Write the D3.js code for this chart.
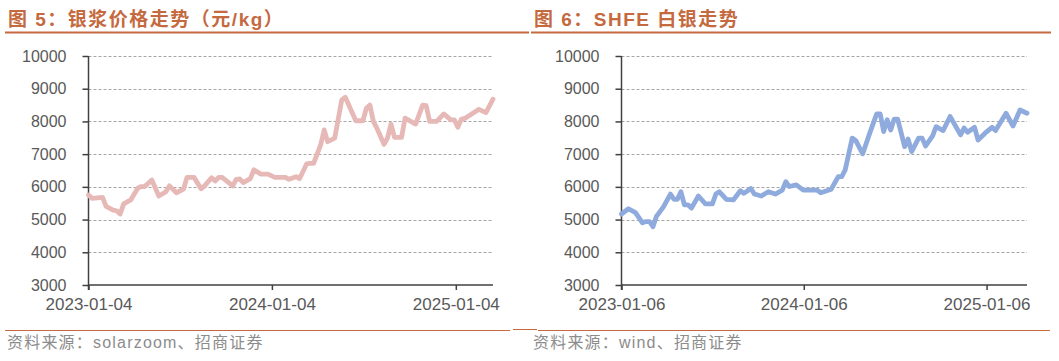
<!DOCTYPE html>
<html><head><meta charset="utf-8">
<script src="https://cdn.jsdelivr.net/npm/d3@7"></script>
<style>body{margin:0;background:#fff} svg{display:block}</style>
</head><body><svg id="c" width="1059" height="361"></svg>
<script>
// ---------- data ----------
const yTicks = [3000, 4000, 5000, 6000, 7000, 8000, 9000, 10000];

const pasteTitle = "图 5：银浆价格走势（元/kg）";
const pasteSource = "资料来源：solarzoom、招商证券";
const pasteXTicks = ["2023-01-04", "2024-01-04", "2025-01-04"];
const pasteDomain = ["2023-01-04", "2025-03-19"];
const pasteDates = [
  "2023-01-04","2023-01-11","2023-02-01","2023-02-08","2023-02-22","2023-03-01","2023-03-08","2023-03-15",
  "2023-03-29","2023-04-12","2023-04-19","2023-04-26","2023-05-10","2023-05-24","2023-06-07","2023-06-14",
  "2023-06-28","2023-07-12","2023-07-19","2023-08-02","2023-08-16","2023-08-23","2023-09-06","2023-09-13",
  "2023-09-20","2023-09-27","2023-10-18","2023-10-25","2023-11-01","2023-11-08","2023-11-22","2023-11-29",
  "2023-12-13","2023-12-27","2024-01-10","2024-01-31","2024-02-07","2024-02-21","2024-02-28","2024-03-13",
  "2024-03-20","2024-03-27","2024-04-10","2024-04-17","2024-04-24","2024-05-08","2024-05-22","2024-05-29",
  "2024-06-19","2024-07-03","2024-07-10","2024-07-17","2024-07-24","2024-07-31","2024-08-14","2024-08-21",
  "2024-08-28","2024-09-04","2024-09-18","2024-09-25","2024-10-16","2024-10-30","2024-11-06","2024-11-13",
  "2024-11-27","2024-12-11","2024-12-25","2025-01-01","2025-01-08","2025-01-15","2025-01-22","2025-02-19",
  "2025-03-05","2025-03-19"
];
const pasteValues = [
  5750,5650,5680,5400,5290,5270,5170,5480,
  5600,5960,6010,6010,6210,5720,5850,6030,
  5820,5930,6290,6290,5940,6030,6280,6180,
  6290,6290,6030,6230,6240,6130,6250,6520,
  6390,6390,6290,6290,6230,6310,6250,6700,
  6720,6720,7280,7740,7380,7490,8660,8740,
  8020,8020,8400,8500,8000,7790,7300,7490,
  7920,7510,7510,8100,7920,8500,8480,8000,
  8000,8230,8050,8050,7820,8070,8090,8370,
  8270,8680
];

const shfeTitle = "图 6：SHFE 白银走势";
const shfeSource = "资料来源：wind、招商证券";
const shfeXTicks = ["2023-01-06", "2024-01-06", "2025-01-06"];
const shfeDomain = ["2023-01-06", "2025-03-28"];
const shfeDates = [
  "2023-01-06","2023-01-20","2023-02-03","2023-02-17","2023-02-24","2023-03-03","2023-03-10","2023-03-17",
  "2023-03-31","2023-04-14","2023-04-21","2023-04-28","2023-05-05","2023-05-12","2023-05-19","2023-05-26",
  "2023-06-09","2023-06-23","2023-07-07","2023-07-14","2023-07-21","2023-08-04","2023-08-18","2023-09-01",
  "2023-09-08","2023-09-22","2023-09-29","2023-10-13","2023-10-27","2023-11-10","2023-11-24","2023-12-01",
  "2023-12-08","2023-12-22","2024-01-05","2024-02-02","2024-02-09","2024-03-01","2024-03-15","2024-03-22",
  "2024-03-29","2024-04-12","2024-04-19","2024-05-03","2024-05-17","2024-05-31","2024-06-07","2024-06-14",
  "2024-06-21","2024-06-28","2024-07-05","2024-07-12","2024-07-26","2024-08-02","2024-08-09","2024-08-23",
  "2024-08-30","2024-09-06","2024-09-20","2024-09-27","2024-10-11","2024-10-25","2024-11-15","2024-11-22",
  "2024-11-29","2024-12-13","2024-12-20","2025-01-03","2025-01-17","2025-01-24","2025-02-14","2025-02-28",
  "2025-03-14","2025-03-28"
];
const shfeValues = [
  5170,5330,5210,4900,4940,4940,4780,5100,
  5390,5780,5620,5620,5850,5450,5450,5350,
  5720,5480,5480,5780,5850,5620,5600,5880,
  5800,5950,5780,5720,5850,5780,5900,6160,
  6010,6060,5900,5900,5820,5930,6310,6310,
  6520,7490,7420,7010,7640,8230,8230,7690,
  8050,7740,8070,8070,7230,7460,7080,7490,
  7490,7250,7560,7840,7720,8150,7590,7800,
  7670,7820,7430,7640,7820,7720,8250,7860,
  8350,8250
];

// ---------- drawing ----------
const svg = d3.select("#c");
const parse = d3.timeParse("%Y-%m-%d");
const fmt = d3.timeFormat("%Y-%m-%d");
const ACCENT = "#C5693F";
const LATIN = "'Liberation Sans', Arial, 'Noto Sans CJK SC', sans-serif";

function panel(cfg) {
  const g = svg.append("g");
  // title
  g.append("text").attr("x", cfg.left + 3).attr("y", 26)
    .attr("font-family", LATIN).attr("font-weight", "bold").attr("font-size", 19)
    .attr("letter-spacing", 1.5)
    .attr("fill", ACCENT).text(cfg.title);
  g.append("line").attr("x1", cfg.left).attr("x2", cfg.right).attr("y1", 32.5).attr("y2", 32.5)
    .attr("stroke", ACCENT).attr("stroke-width", 2);

  const x = d3.scaleTime().domain(cfg.domain.map(parse)).range([cfg.x0, cfg.x1]);
  const y = d3.scaleLinear().domain([3000, 10000]).range([285, 56]);

  // gridlines
  g.append("g").selectAll("line").data(yTicks.filter(v => v > 3000)).join("line")
    .attr("x1", cfg.x0).attr("x2", cfg.x1)
    .attr("y1", d => Math.round(y(d)) + 0.5).attr("y2", d => Math.round(y(d)) + 0.5)
    .attr("stroke", "#A6A6A6").attr("stroke-width", 1).attr("stroke-dasharray", "3,2");

  // y axis
  const ya = g.append("g").attr("transform", `translate(${cfg.x0},0)`)
    .call(d3.axisLeft(y).tickValues(yTicks).tickSize(6).tickPadding(16).tickFormat(d3.format("d")));
  ya.select(".domain").attr("stroke", "#404040").attr("stroke-width", 1.5)
    .attr("d", `M0,${y(10000)}V${y(3000) + 5}`);
  ya.selectAll(".tick line").attr("stroke", "#404040").attr("stroke-width", 1.5);
  ya.selectAll(".tick text").attr("font-family", LATIN).attr("font-size", 16).attr("fill", "#595959");

  // x axis
  const xa = g.append("g").attr("transform", `translate(0,285)`)
    .call(d3.axisBottom(x).tickValues(cfg.xTicks.map(parse)).tickSize(5).tickPadding(8).tickFormat(fmt));
  xa.select(".domain").attr("stroke", "#404040").attr("stroke-width", 1.5)
    .attr("d", `M${cfg.x0},0H${cfg.x1}`);
  xa.selectAll(".tick line").attr("stroke", "#404040").attr("stroke-width", 1.5);
  xa.selectAll(".tick text").attr("font-family", LATIN).attr("font-size", 17).attr("fill", "#595959");

  // series line
  const pts = cfg.dates.map((d, i) => [parse(d), cfg.values[i]]);
  g.append("path").datum(pts)
    .attr("d", d3.line().x(d => x(d[0])).y(d => y(d[1])))
    .attr("fill", "none").attr("stroke", cfg.color).attr("stroke-width", 4.8)
    .attr("stroke-linejoin", "round").attr("stroke-linecap", "round");

  // source
  g.append("text").attr("x", cfg.left + 2).attr("y", 348)
    .attr("font-family", LATIN).attr("font-size", 16).attr("letter-spacing", 1.2)
    .attr("fill", "#8C8C8C").text(cfg.source);
}

panel({left: 5, right: 529, x0: 88.5, x1: 493, domain: pasteDomain, xTicks: pasteXTicks,
  dates: pasteDates, values: pasteValues, color: "#E6B9B7", title: pasteTitle, source: pasteSource});
panel({left: 531, right: 1051, x0: 621.5, x1: 1027, domain: shfeDomain, xTicks: shfeXTicks,
  dates: shfeDates, values: shfeValues, color: "#8FAADC", title: shfeTitle, source: shfeSource});

// bottom rules
svg.append("line").attr("x1", 5).attr("x2", 510).attr("y1", 330.5).attr("y2", 330.5).attr("stroke", ACCENT).attr("stroke-width", 1);
svg.append("line").attr("x1", 513).attr("x2", 537).attr("y1", 329.5).attr("y2", 329.5).attr("stroke", ACCENT).attr("stroke-width", 1);
svg.append("line").attr("x1", 538).attr("x2", 1050).attr("y1", 330.5).attr("y2", 330.5).attr("stroke", ACCENT).attr("stroke-width", 1);
</script></body></html>
